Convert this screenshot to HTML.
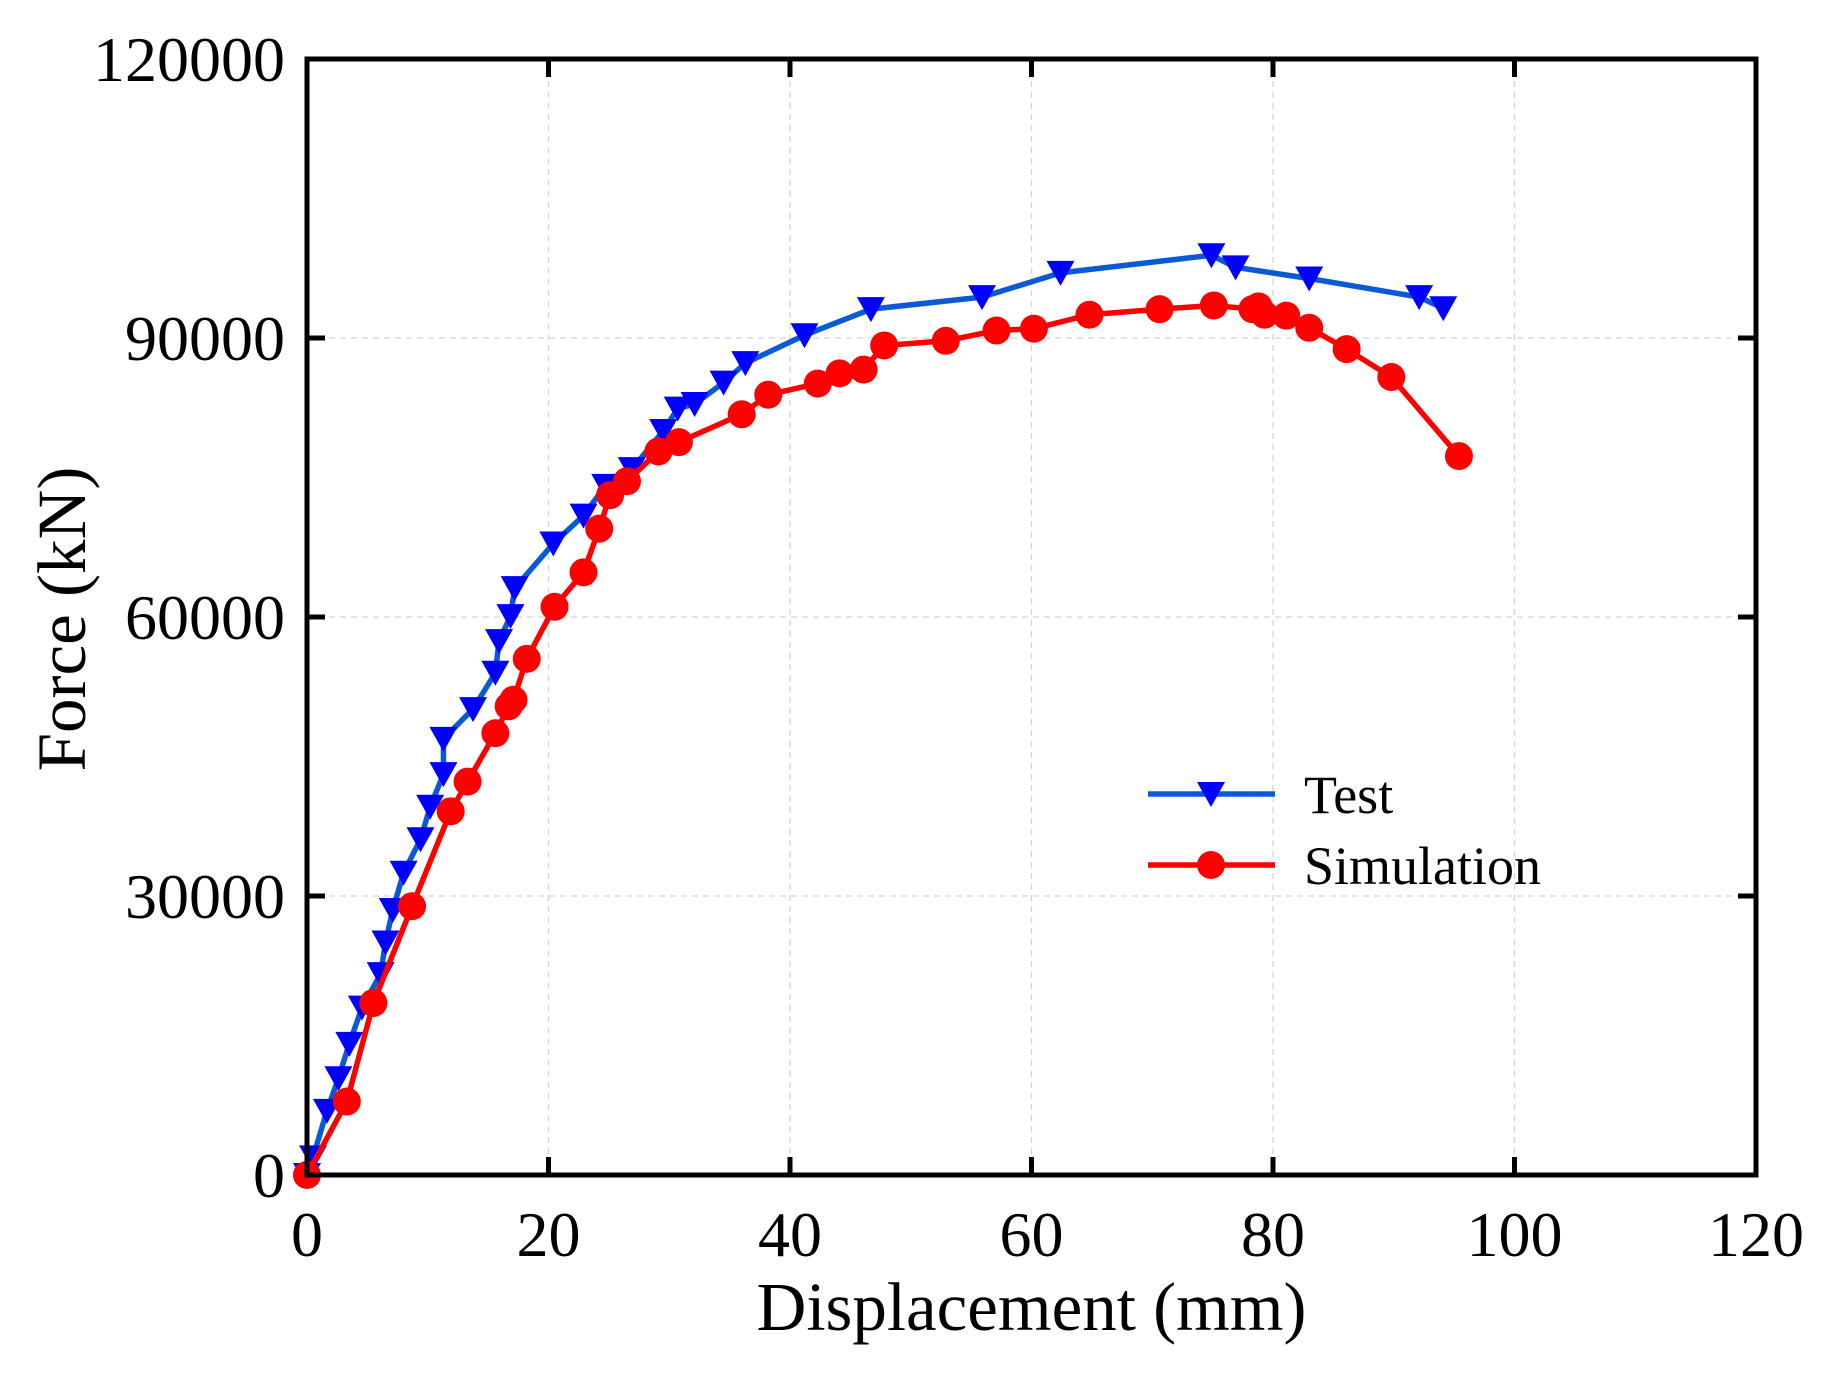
<!DOCTYPE html>
<html><head><meta charset="utf-8"><style>
html,body{margin:0;padding:0;background:#fff;}
svg text{font-family:"Liberation Serif",serif;fill:#000;}
</style></head><body>
<svg id="chart" width="1829" height="1377" viewBox="0 0 1829 1377" xmlns="http://www.w3.org/2000/svg"></svg>
<script>
const xTicks = [0, 20, 40, 60, 80, 100, 120];
const yTicks = [0, 30000, 60000, 90000, 120000];
const testX = [0, 0.5, 1.65, 2.6, 3.5, 4.55, 6.1, 6.5, 7.1, 8.0, 9.4, 10.2, 11.3, 11.3, 13.75, 15.6, 15.9, 16.85, 17.2, 20.4, 22.9, 24.7, 26.9, 29.5, 30.7, 32.1, 34.5, 36.3, 41.2, 46.7, 55.9, 62.4, 74.9, 76.9, 83.0, 92.1, 94.1];
const testY = [0, 1900, 6900, 10400, 14100, 18000, 21600, 25000, 28500, 32500, 36100, 39600, 43100, 46900, 50100, 54000, 57400, 60100, 63100, 67900, 70900, 74100, 75900, 80000, 82400, 82900, 85200, 87300, 90300, 93100, 94400, 97000, 98900, 97600, 96400, 94400, 93200];
const simX = [0, 3.3, 5.5, 8.7, 11.9, 13.3, 15.6, 16.7, 17.1, 18.2, 20.5, 22.9, 24.2, 25.1, 26.5, 29.1, 30.8, 36.0, 38.2, 42.3, 44.1, 46.1, 47.8, 52.9, 57.1, 60.2, 64.8, 70.6, 75.1, 78.3, 78.8, 79.3, 81.1, 83.0, 86.1, 89.8, 95.4];
const simY = [0, 7900, 18500, 28900, 39100, 42300, 47500, 50400, 51100, 55500, 61100, 64800, 69500, 73100, 74600, 77800, 78800, 81800, 83900, 85100, 86200, 86600, 89200, 89700, 90800, 91000, 92500, 93100, 93500, 93100, 93400, 92500, 92400, 91100, 88800, 85800, 77300];

const L=307, R=1756, T=59, B=1175;
const sx = v => L + (v-0)/(120-0)*(R-L);
const sy = v => B - (v-0)/(120000-0)*(B-T);
const NS="http://www.w3.org/2000/svg";
const svg=document.getElementById('chart');
function mk(tag, attrs, parent){const e=document.createElementNS(NS,tag);for(const k in attrs)e.setAttribute(k,attrs[k]);(parent||svg).appendChild(e);return e;}

const grid=mk('g',{});


xTicks.slice(1,-1).forEach(t=>{const l=mk('line',{x1:sx(t),x2:sx(t),y1:T,y2:B,stroke:'#d4d4d4','stroke-width':1.3,'stroke-dasharray':'6,5'},grid);

});
yTicks.slice(1,-1).forEach(t=>{const l=mk('line',{x1:L,x2:R,y1:sy(t),y2:sy(t),stroke:'#d4d4d4','stroke-width':1.3,'stroke-dasharray':'6,5'},grid);

});

function series(xs, ys, color, mcolor, kind, name){
  const g=mk('g',{});
  
  
  const pts=xs.map((x,i)=>sx(x)+','+sy(ys[i])).join(' ');
  const pl=mk('polyline',{points:pts,fill:'none',stroke:color,'stroke-width':5.5,'stroke-linejoin':'round'},g);
  
  
  xs.forEach((x,i)=>{
    const cx=sx(x), cy=sy(ys[i]); let m;
    if(kind==='tri'){m=mk('polygon',{points:`${cx-14},${cy-12} ${cx+14},${cy-12} ${cx},${cy+13}`,fill:mcolor},g);}
    else{m=mk('circle',{cx:cx,cy:cy,r:14,fill:mcolor},g);}
    
    
  });
}
series(testX,testY,'#0a5ad6','#0000ff','tri','test-series');
series(simX,simY,'#ff0000','#ff0000','circ','simulation-series');

const fr=mk('rect',{x:L,y:T,width:R-L,height:B-T,fill:'none',stroke:'#000','stroke-width':5});



xTicks.forEach(t=>{
  mk('line',{x1:sx(t),x2:sx(t),y1:B,y2:B-18,stroke:'#000','stroke-width':5});
  mk('line',{x1:sx(t),x2:sx(t),y1:T,y2:T+18,stroke:'#000','stroke-width':5});
  const tx=mk('text',{x:sx(t),y:1256,'font-size':64,'text-anchor':'middle'});tx.textContent=t;
  
  
});
yTicks.forEach(t=>{
  mk('line',{x1:L,x2:L+18,y1:sy(t),y2:sy(t),stroke:'#000','stroke-width':5});
  mk('line',{x1:R,x2:R-18,y1:sy(t),y2:sy(t),stroke:'#000','stroke-width':5});
  const tx=mk('text',{x:285,y:sy(t)+22,'font-size':64,'text-anchor':'end'});tx.textContent=t;
  
  
});

const xt=mk('text',{x:(L+R)/2,y:1330,'font-size':69,'text-anchor':'middle'});xt.textContent='Displacement (mm)';


const yt=mk('text',{x:0,y:0,'font-size':69,'text-anchor':'middle',transform:'translate(85,619) rotate(-90)'});yt.textContent='Force (kN)';



const lg=mk('g',{});


const e1=mk('g',{},lg);


mk('line',{x1:1148,x2:1275,y1:794,y2:794,stroke:'#0a5ad6','stroke-width':5.5},e1);
mk('polygon',{points:`1197,782 1225,782 1211,807`,fill:'#0000ff'},e1);
const t1=mk('text',{x:1304,y:813,'font-size':54},e1);t1.textContent='Test';
const e2=mk('g',{},lg);


mk('line',{x1:1148,x2:1275,y1:865,y2:865,stroke:'#ff0000','stroke-width':5.5},e2);
mk('circle',{cx:1211,cy:865,r:14,fill:'#ff0000'},e2);
const t2=mk('text',{x:1304,y:884,'font-size':54},e2);t2.textContent='Simulation';
</script>
</body></html>
